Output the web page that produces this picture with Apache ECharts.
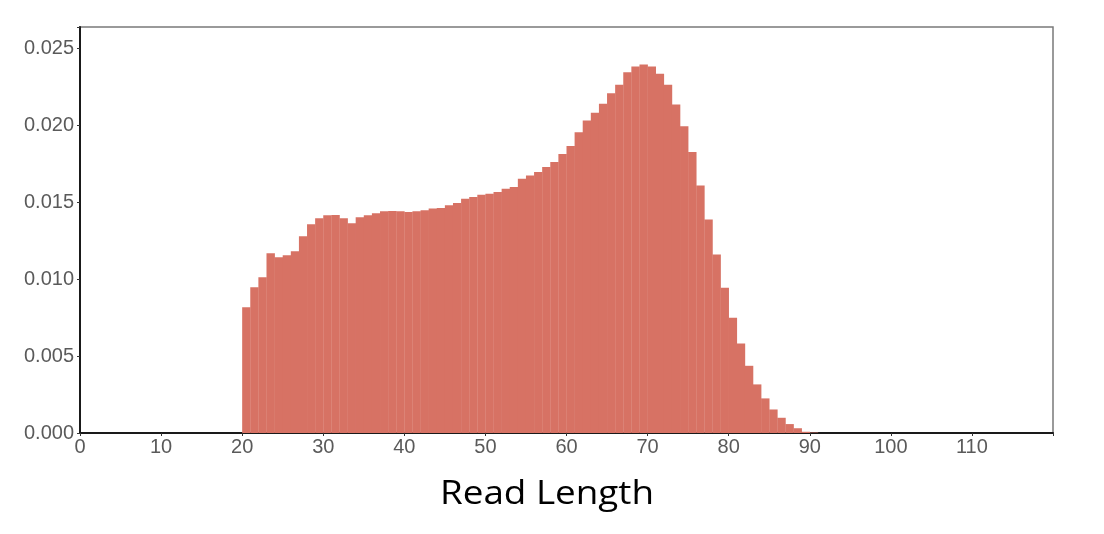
<!DOCTYPE html>
<html>
<head>
<meta charset="utf-8">
<script src="https://cdn.jsdelivr.net/npm/echarts@6/dist/echarts.min.js"></script>
<style>
html,body{margin:0;padding:0;background:#fff;}
#chart{width:1104px;height:534px;}
</style>
</head>
<body>
<div id="chart"></div>
<script>
// Histogram bins (read length, bin width 1) starting at 20
const binStart = 20;
const binWidth = 1;
const density = [
  0.00818, 0.00948, 0.01013, 0.01169, 0.01143, 0.01156, 0.01182, 0.01279, 0.01357, 0.01396, // 20-29
  0.01416, 0.01418, 0.01396, 0.01364, 0.01403, 0.01416, 0.01429, 0.01442, 0.01444, 0.01442, // 30-39
  0.01437, 0.01442, 0.01448, 0.01459, 0.01463, 0.01481, 0.01495, 0.01524, 0.01534, 0.01550, // 40-49
  0.01556, 0.01567, 0.01589, 0.01599, 0.01654, 0.01675, 0.01697, 0.01729, 0.01762, 0.01815, // 50-59
  0.01866, 0.01956, 0.02032, 0.02082, 0.02141, 0.02210, 0.02264, 0.02346, 0.02383, 0.02396, // 60-69
  0.02383, 0.02336, 0.02264, 0.02136, 0.01995, 0.01827, 0.01610, 0.01388, 0.01160, 0.00944, // 70-79
  0.00749, 0.00582, 0.00437, 0.00316, 0.00225, 0.00153, 0.00099, 0.00058, 0.00031, 0.00008, // 80-89
  0.00003                                                                                 // 90
];
const xTicks = [0, 10, 20, 30, 40, 50, 60, 70, 80, 90, 100, 110];
const yTicks = [0.000, 0.005, 0.010, 0.015, 0.020, 0.025];
const xAxisTitle = 'Read Length';

const bins = density.map((v, i) => [binStart + i * binWidth, binStart + (i + 1) * binWidth, v]);

const chart = echarts.init(document.getElementById('chart'), null, {renderer: 'canvas'});
const labelFont = 'Liberation Sans, Arial, sans-serif';
chart.setOption({
  animation: false,
  backgroundColor: '#ffffff',
  grid: {
    left: 80, top: 27, right: 51, bottom: 101,
    show: true, borderColor: '#7a7a7a', borderWidth: 1.5, backgroundColor: 'transparent'
  },
  xAxis: {
    type: 'value', min: 0, max: 120, interval: 10,
    axisLine: {show: true, onZero: false, lineStyle: {color: '#1a1a1a', width: 2}},
    axisTick: {show: true, length: 3, lineStyle: {color: '#333', width: 1}},
    splitLine: {show: false},
    axisLabel: {
      color: '#5a5a5a', fontSize: 20, fontFamily: labelFont, margin: 4,
      formatter: v => xTicks.includes(v) ? String(v) : ''
    }
  },
  yAxis: {
    type: 'value', min: 0, max: 0.0264, interval: 0.005,
    axisLine: {show: true, lineStyle: {color: '#1a1a1a', width: 2}},
    axisTick: {show: true, length: 3, lineStyle: {color: '#333', width: 1}},
    splitLine: {show: false},
    axisLabel: {
      color: '#5a5a5a', fontSize: 20, fontFamily: labelFont, margin: 6,
      formatter: v => {
        const t = yTicks.find(k => Math.abs(k - v) < 1e-9);
        return t === undefined ? '' : t.toFixed(3);
      }
    }
  },
  series: [{
    type: 'custom',
    data: bins,
    encode: {x: [0, 1], y: 2},
    renderItem: function (params, api) {
      const p0 = api.coord([api.value(0), api.value(2)]);
      const p1 = api.coord([api.value(1), 0]);
      return {
        type: 'rect',
        shape: {x: p0[0], y: p0[1], width: p1[0] - p0[0] + 0.3, height: p1[1] - p0[1]},
        style: {fill: '#d77264'}
      };
    },
    z: 1
  }],
  graphic: [{
    type: 'text',
    x: 440, y: 479,
    scaleX: 1.15,
    style: {text: xAxisTitle, x: 0, y: 0, textAlign: 'left', textVerticalAlign: 'top',
            font: '32px "Open Sans", "Noto Sans", sans-serif', fill: '#000'}
  }]
});
</script>
</body>
</html>
